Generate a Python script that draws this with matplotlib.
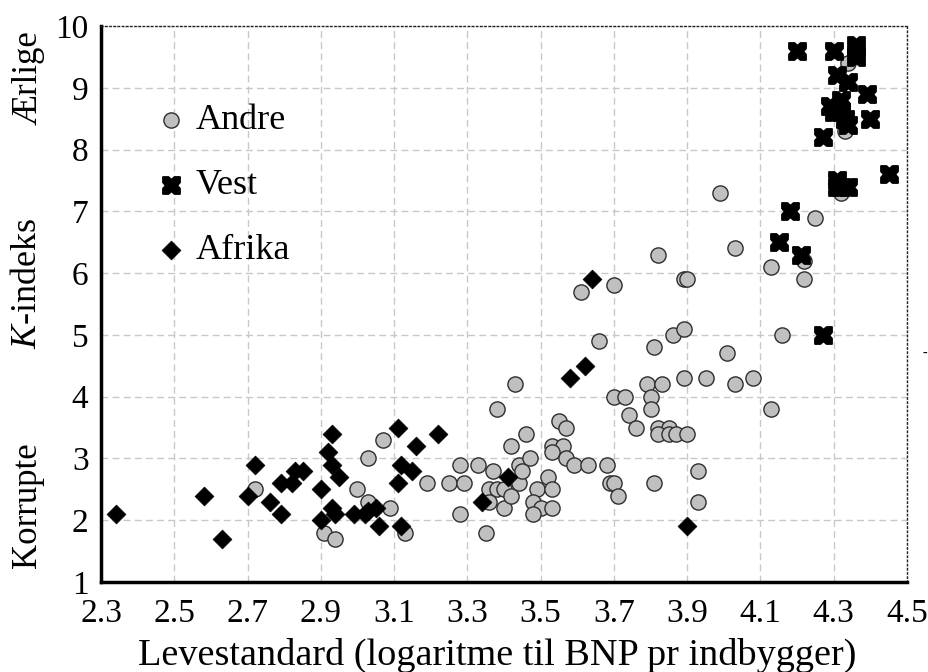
import matplotlib
matplotlib.use('Agg')
import matplotlib.pyplot as plt
from matplotlib.path import Path

# ---------------- data ----------------
andre_x = [2.72, 2.91, 2.94, 3.00, 3.03, 3.07, 3.03, 3.09, 3.13, 3.19, 3.25, 3.29,
           3.28, 3.33, 3.28, 3.37, 3.36, 3.38, 3.40, 3.36, 3.35, 3.40, 3.42, 3.44,
           3.44, 3.45, 3.47, 3.38, 3.43, 3.42, 3.46, 3.55, 3.57, 3.53, 3.56, 3.53,
           3.57, 3.59, 3.63, 3.68, 3.52, 3.49, 3.53, 3.48, 3.50, 3.53, 3.48, 3.61,
           3.70, 3.66, 3.70, 3.73, 3.74, 3.76, 3.79, 3.83, 3.80, 3.80, 3.82, 3.85,
           3.82, 3.85, 3.87, 3.90, 3.69, 3.70, 3.71, 3.81, 3.93, 3.93, 3.81, 3.86,
           3.89, 3.89, 3.95, 4.01, 4.03, 4.08, 4.13, 4.16, 3.82, 3.89, 3.90, 3.99,
           4.03, 4.13, 4.22, 4.22, 4.25, 4.32, 4.33, 4.34]
andre_y = [2.5, 1.8, 1.7, 2.5, 3.0, 3.3, 2.3, 2.2, 1.8, 2.6, 2.6, 2.6,
           2.9, 2.9, 2.1, 2.8, 2.5, 2.5, 2.5, 2.3, 1.8, 2.2, 2.4, 2.6,
           2.9, 2.8, 3.0, 3.8, 4.2, 3.2, 3.4, 3.6, 3.5, 3.2, 3.2, 3.1,
           3.0, 2.9, 2.9, 2.9, 2.7, 2.5, 2.5, 2.3, 2.2, 2.2, 2.1, 5.7,
           5.8, 4.9, 4.0, 4.0, 3.7, 3.5, 4.2, 4.2, 4.0, 3.8, 3.5, 3.5,
           3.4, 3.4, 3.4, 3.4, 2.6, 2.6, 2.4, 2.6, 2.8, 2.3, 4.8, 5.0,
           5.1, 4.3, 4.3, 4.7, 4.2, 4.3, 3.8, 5.0, 6.3, 5.9, 5.9, 7.3,
           6.4, 6.1, 6.2, 5.9, 6.9, 7.3, 8.3, 9.4]

vest_x = [4.20, 4.30, 4.36, 4.36, 4.36, 4.31, 4.34, 4.39, 4.29, 4.32, 4.32, 4.30,
          4.33, 4.34, 4.40, 4.27, 4.45, 4.31, 4.31, 4.32, 4.34, 4.18, 4.15, 4.21,
          4.27]
vest_y = [9.6, 9.6, 9.7, 9.6, 9.5, 9.2, 9.1, 8.9, 8.7, 8.8, 8.6, 8.6,
          8.5, 8.4, 8.5, 8.2, 7.6, 7.5, 7.4, 7.4, 7.4, 7.0, 6.5, 6.3,
          5.0]

afrika_x = [2.34, 2.58, 2.63, 2.72, 2.70, 2.76, 2.79, 2.79, 2.82, 2.83, 2.85, 2.90,
            2.90, 2.93, 2.92, 2.93, 2.95, 2.93, 2.94, 2.99, 3.02, 3.03, 3.05, 3.06,
            3.11, 3.16, 3.22, 3.12, 3.15, 3.11, 3.12, 3.34, 3.41, 3.58, 3.62, 3.64,
            3.90]
afrika_y = [2.1, 2.4, 1.7, 2.9, 2.4, 2.3, 2.1, 2.6, 2.6, 2.8, 2.8, 2.5,
            2.0, 3.4, 3.1, 2.9, 2.7, 2.2, 2.1, 2.1, 2.1, 2.15, 2.2, 1.9,
            3.5, 3.2, 3.4, 2.9, 2.8, 2.6, 1.9, 2.3, 2.7, 4.3, 4.5, 5.9,
            1.9]

series_labels = ['Andre', 'Vest', 'Afrika']
xticks = [2.3, 2.5, 2.7, 2.9, 3.1, 3.3, 3.5, 3.7, 3.9, 4.1, 4.3, 4.5]
xtick_labels = ['2.3', '2.5', '2.7', '2.9', '3.1', '3.3', '3.5', '3.7', '3.9', '4.1', '4.3', '4.5']
yticks = [1, 2, 3, 4, 5, 6, 7, 8, 9, 10]
ytick_labels = ['1', '2', '3', '4', '5', '6', '7', '8', '9', '10']
xlabel = 'Levestandard (logaritme til BNP pr indbygger)'
ylabel_low = 'Korrupte'
ylabel_mid = '$K$-indeks'
ylabel_high = 'Ærlige'

# ---------------- style ----------------
plt.rcParams['font.family'] = ['Liberation Serif', 'DejaVu Serif']
plt.rcParams['mathtext.fontset'] = 'custom'
plt.rcParams['mathtext.rm'] = 'Liberation Serif'
plt.rcParams['mathtext.it'] = 'Liberation Serif:italic'

W, H = 929, 672
fig = plt.figure(figsize=(W / 100, H / 100), dpi=100)
L, R, T, B = 101, 907, 26, 582
ax = fig.add_axes([L / W, 1 - B / H, (R - L) / W, (B - T) / H])
ax.set_xlim(2.3, 4.5)
ax.set_ylim(1, 10)
ax.set_xticks(xticks)
ax.set_xticklabels(xtick_labels)
ax.set_yticks(yticks)
ax.set_yticklabels(ytick_labels)
ax.tick_params(length=0, labelsize=24, colors='black')
ax.tick_params(axis='y', pad=9)
ax.tick_params(axis='x', pad=12)
ax.grid(True, color='#c8c8c8', linestyle=(0, (5, 3)), linewidth=1)
ax.set_axisbelow(True)
for s in ['left', 'bottom']:
    ax.spines[s].set_linewidth(2.5)
    ax.spines[s].set_color('black')
for s in ['top', 'right']:
    ax.spines[s].set_linewidth(1)
    ax.spines[s].set_linestyle((0, (1, 2)))
    ax.spines[s].set_color('#222222')

# custom notched-cross marker for "Vest"
d, w = 0.32, 0.36
verts = [(1, 1), (1, w), (1 - d, 0), (1, -w), (1, -1), (w, -1), (0, -1 + d), (-w, -1),
         (-1, -1), (-1, -w), (-1 + d, 0), (-1, w), (-1, 1), (-w, 1), (0, 1 - d), (w, 1), (1, 1)]
codes = [Path.MOVETO] + [Path.LINETO] * (len(verts) - 2) + [Path.CLOSEPOLY]
vest_marker = Path(verts, codes)

ax.scatter(andre_x, andre_y, s=120, marker='o', facecolor='#c0c0c0',
           edgecolor='#2e2e2e', linewidth=1, label=series_labels[0], zorder=3)
ax.scatter(vest_x, vest_y, s=150, marker=vest_marker, facecolor='black',
           edgecolor='black', linewidth=1.3, label=series_labels[1], zorder=4)
ax.scatter(afrika_x, afrika_y, s=92, marker='D', facecolor='black',
           edgecolor='black', linewidth=0.5, label=series_labels[2], zorder=5)

ax.legend(loc='upper left', bbox_to_anchor=(161 / W, 1 - 104 / H),
          bbox_transform=fig.transFigure, frameon=False, fontsize=26,
          handlelength=0.58, handletextpad=0.38, labelspacing=0.88,
          borderpad=0, borderaxespad=0, scatterpoints=1)

ax.set_xlabel(xlabel, fontsize=27.5)
ax.xaxis.set_label_coords((497 - L) / (R - L), (B - 638) / (B - T))

fig.text(28 / W, 1 - 505 / H, ylabel_low, rotation=90, fontsize=25, ha='center', va='center')
fig.text(28 / W, 1 - 283 / H, ylabel_mid, rotation=90, fontsize=26, ha='center', va='center')
fig.text(28 / W, 1 - 78 / H, ylabel_high, rotation=90, fontsize=25, ha='center', va='center')
fig.text(925 / W, 1 - 353 / H, '-', fontsize=10, ha='center', va='center')

fig.savefig('out.png', dpi=100)
